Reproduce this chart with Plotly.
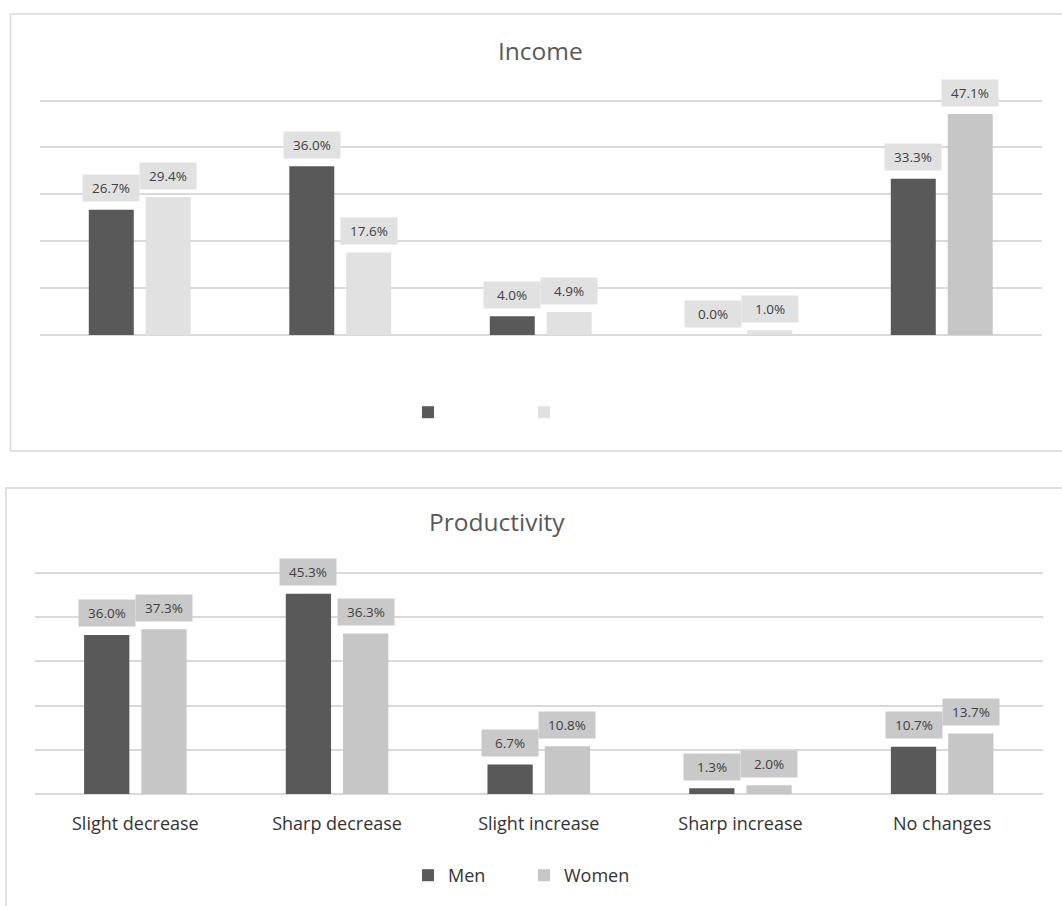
import plotly.graph_objects as go

# ---- data -------------------------------------------------------------
categories = ["Slight decrease", "Sharp decrease", "Slight increase",
              "Sharp increase", "No changes"]
series_names = ["Men", "Women"]

income_men = [26.7, 36.0, 4.0, 0.0, 33.3]
income_women = [29.4, 17.6, 4.9, 1.0, 47.1]

productivity_men = [36.0, 45.3, 6.7, 1.3, 10.7]
productivity_women = [37.3, 36.3, 10.8, 2.0, 13.7]

y_ticks = [0, 10, 20, 30, 40, 50]
Y_MAX = 50
Y_RANGE_TOP = 51  # headroom so the 50 gridline is not clipped at the edge

# ---- styling ------------------------------------------------------------
W, H = 1062, 906
FONT = "Open Sans"
DARK = "#595959"
LIGHT = "#e1e1e1"
MID = "#c6c6c6"
GRID = "#d9d9d9"
TEXT = "#404040"
AXIS_TEXT = "#333333"
TITLE = "#595959"

BARGAP = 0.432
BARGROUPGAP = 0.21
# centre of each bar relative to its category centre (in category units)
BAR_OFFSET = (1 - BARGAP) / 4

income_women_colors = [LIGHT, LIGHT, LIGHT, LIGHT, MID]


def px_x(p):
    return p / W


def px_y(p):
    return 1 - p / H


def y_domain(base_px, top_px):
    # top_px is where Y_MAX should sit; stretch so the extra headroom fits
    h = (base_px - top_px) * Y_RANGE_TOP / Y_MAX
    return [px_y(base_px), px_y(base_px - h)]


fig = go.Figure()

# Income panel (top)
fig.add_bar(x=categories, y=income_men, name=series_names[0],
            marker=dict(color=DARK, line_width=0),
            xaxis="x", yaxis="y", legend="legend2")
fig.add_bar(x=categories, y=income_women, name=series_names[1],
            marker=dict(color=income_women_colors, line_width=0),
            xaxis="x", yaxis="y", legend="legend2")

# Productivity panel (bottom)
fig.add_bar(x=categories, y=productivity_men, name=series_names[0],
            marker=dict(color=DARK, line_width=0),
            xaxis="x2", yaxis="y2", legend="legend")
fig.add_bar(x=categories, y=productivity_women, name=series_names[1],
            marker=dict(color=MID, line_width=0),
            xaxis="x2", yaxis="y2", legend="legend")

# value labels in shaded boxes above each bar
annotations = []


def add_labels(values, xref, yref, side, box_color):
    for i, v in enumerate(values):
        annotations.append(dict(
            x=i + side * BAR_OFFSET, y=v, xref=xref, yref=yref,
            text=f"{v:.1f}%", showarrow=False,
            xanchor="center", yanchor="bottom", yshift=7.5,
            width=48, height=18, borderpad=4, bgcolor=box_color,
            font=dict(family=FONT, size=13.5, color=TEXT),
        ))


add_labels(income_men, "x", "y", -1, LIGHT)
add_labels(income_women, "x", "y", 1, LIGHT)
add_labels(productivity_men, "x2", "y2", -1, "#c9c9c9")
add_labels(productivity_women, "x2", "y2", 1, "#c9c9c9")

# panel titles
annotations.append(dict(text="Income", x=px_x(540.5), y=px_y(51), xref="paper",
                        yref="paper", showarrow=False, xanchor="center",
                        yanchor="middle",
                        font=dict(family=FONT, size=24.5, color=TITLE)))
annotations.append(dict(text="Productivity", x=px_x(497), y=px_y(521),
                        xref="paper", yref="paper", showarrow=False,
                        xanchor="center", yanchor="middle",
                        font=dict(family=FONT, size=24.5, color=TITLE)))

# chart frames
shapes = [
    dict(type="rect", xref="paper", yref="paper",
         x0=px_x(10.5), x1=1.05, y0=px_y(451), y1=px_y(14),
         line=dict(color=GRID, width=1.5), layer="below"),
    dict(type="rect", xref="paper", yref="paper",
         x0=px_x(6), x1=1.05, y0=-0.05, y1=px_y(488),
         line=dict(color=GRID, width=1.5), layer="below"),
]

yaxis_common = dict(range=[0, Y_RANGE_TOP], tickvals=y_ticks,
                    showticklabels=False,
                    showgrid=True, gridcolor=GRID, gridwidth=1.5,
                    zeroline=True, zerolinecolor=GRID, zerolinewidth=1.5,
                    showline=False, ticks="", fixedrange=True)

legend_common = dict(orientation="h", xanchor="left", yanchor="middle",
                     bgcolor="rgba(0,0,0,0)", borderwidth=0,
                     entrywidth=71, entrywidthmode="pixels",
                     traceorder="normal")

fig.update_layout(
    width=W, height=H,
    margin=dict(l=0, r=0, t=0, b=0),
    paper_bgcolor="white", plot_bgcolor="white",
    barmode="group", bargap=BARGAP, bargroupgap=BARGROUPGAP,
    font=dict(family=FONT, color=TEXT),
    xaxis=dict(domain=[px_x(39.5), px_x(1042)], anchor="y",
               showticklabels=False, showgrid=False, ticks="",
               showline=False, fixedrange=True),
    yaxis=dict(domain=y_domain(335, 100.5), anchor="x", **yaxis_common),
    xaxis2=dict(domain=[px_x(34.5), px_x(1043)], anchor="y2",
                showticklabels=True, showgrid=False, ticks="",
                showline=False, fixedrange=True, ticklabelstandoff=17,
                tickfont=dict(family=FONT, size=18, color=AXIS_TEXT)),
    yaxis2=dict(domain=y_domain(794, 573), anchor="x2", **yaxis_common),
    legend=dict(x=px_x(408), y=px_y(875.5),
                font=dict(family=FONT, size=18, color=AXIS_TEXT),
                **legend_common),
    legend2=dict(x=px_x(408), y=px_y(412.5),
                 font=dict(family=FONT, size=18, color="rgba(255,255,255,0)"),
                 **legend_common),
    annotations=annotations,
    shapes=shapes,
    showlegend=True,
)

fig.write_html("out.html")
